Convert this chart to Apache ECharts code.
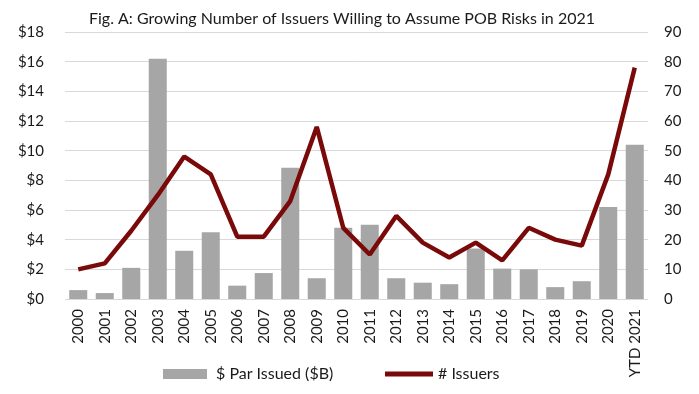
<!DOCTYPE html>
<html>
<head>
<meta charset="utf-8">
<script src="https://cdn.jsdelivr.net/npm/echarts@6/dist/echarts.min.js"></script>
<style>html,body{margin:0;padding:0;background:#fff;}#c{width:699px;height:394px;}</style>
</head>
<body>
<div id="c"></div>
<script>
const categories = ['2000','2001','2002','2003','2004','2005','2006','2007','2008','2009','2010','2011','2012','2013','2014','2015','2016','2017','2018','2019','2020','YTD 2021'];
const parIssued = [0.6,0.4,2.1,16.2,3.25,4.5,0.9,1.75,8.85,1.4,4.8,5.0,1.4,1.1,1.0,3.4,2.05,2.0,0.8,1.2,6.2,10.4];
const issuers = [10,12,23,35,48,42,21,21,33,58,24,15,28,19,14,19,13,24,20,18,42,78];
const leftTicks = [0,2,4,6,8,10,12,14,16,18];
const rightTicks = [0,10,20,30,40,50,60,70,80,90];

const font = 'Lato';
const txt = '#1a1a1a';
const chart = echarts.init(document.getElementById('c'));
chart.setOption({
  animation: false,
  title: {
    text: 'Fig. A: Growing Number of Issuers Willing to Assume POB Risks in 2021',
    left: 337, textAlign: 'center', top: 6,
    textStyle: {fontFamily: font, fontSize: 16, fontWeight: 'normal', color: txt}
  },
  grid: {left: 65, right: 51, top: 32, bottom: 95},
  legend: [
    {
      top: 365, left: 163, padding: 0, itemWidth: 44, itemHeight: 10,
      textStyle: {fontFamily: font, fontSize: 16, lineHeight: 18, color: txt, padding: [0,0,0,4]},
      data: [{name: '$ Par Issued ($B)', icon: 'rect'}]
    },
    {
      top: 365, left: 385, padding: 0, itemWidth: 48, itemHeight: 10,
      textStyle: {fontFamily: font, fontSize: 16, lineHeight: 18, color: txt, padding: [0,0,0,0]},
      data: [{name: '# Issuers', icon: 'path://M0,0L0,0M0,2.6L48,2.6L48,7.4L0,7.4ZM48,10L48,10'}]
    }
  ],
  xAxis: {
    type: 'category', data: categories,
    axisLine: {show: false}, axisTick: {show: false},
    axisLabel: {rotate: 90, fontFamily: font, fontSize: 15, color: txt, margin: 10, interval: 0}
  },
  yAxis: [
    {
      type: 'value', min: leftTicks[0], max: leftTicks[leftTicks.length-1], interval: 2,
      axisLabel: {fontFamily: font, fontSize: 15, color: txt, margin: 21, formatter: v => '$' + v},
      splitLine: {lineStyle: {color: '#d9d9d9', width: 1}}
    },
    {
      type: 'value', min: rightTicks[0], max: rightTicks[rightTicks.length-1], interval: 10,
      axisLabel: {fontFamily: font, fontSize: 15, color: txt, margin: 16},
      splitLine: {show: false}
    }
  ],
  series: [
    {
      name: '$ Par Issued ($B)', type: 'bar', data: parIssued, yAxisIndex: 0,
      barCategoryGap: '32%', itemStyle: {color: '#a6a6a6'}
    },
    {
      name: '# Issuers', type: 'line', data: issuers, yAxisIndex: 1,
      symbol: 'none', lineStyle: {color: '#7a0a0a', width: 4.5}, itemStyle: {color: '#7a0a0a'}
    }
  ]
});
</script>
</body>
</html>
